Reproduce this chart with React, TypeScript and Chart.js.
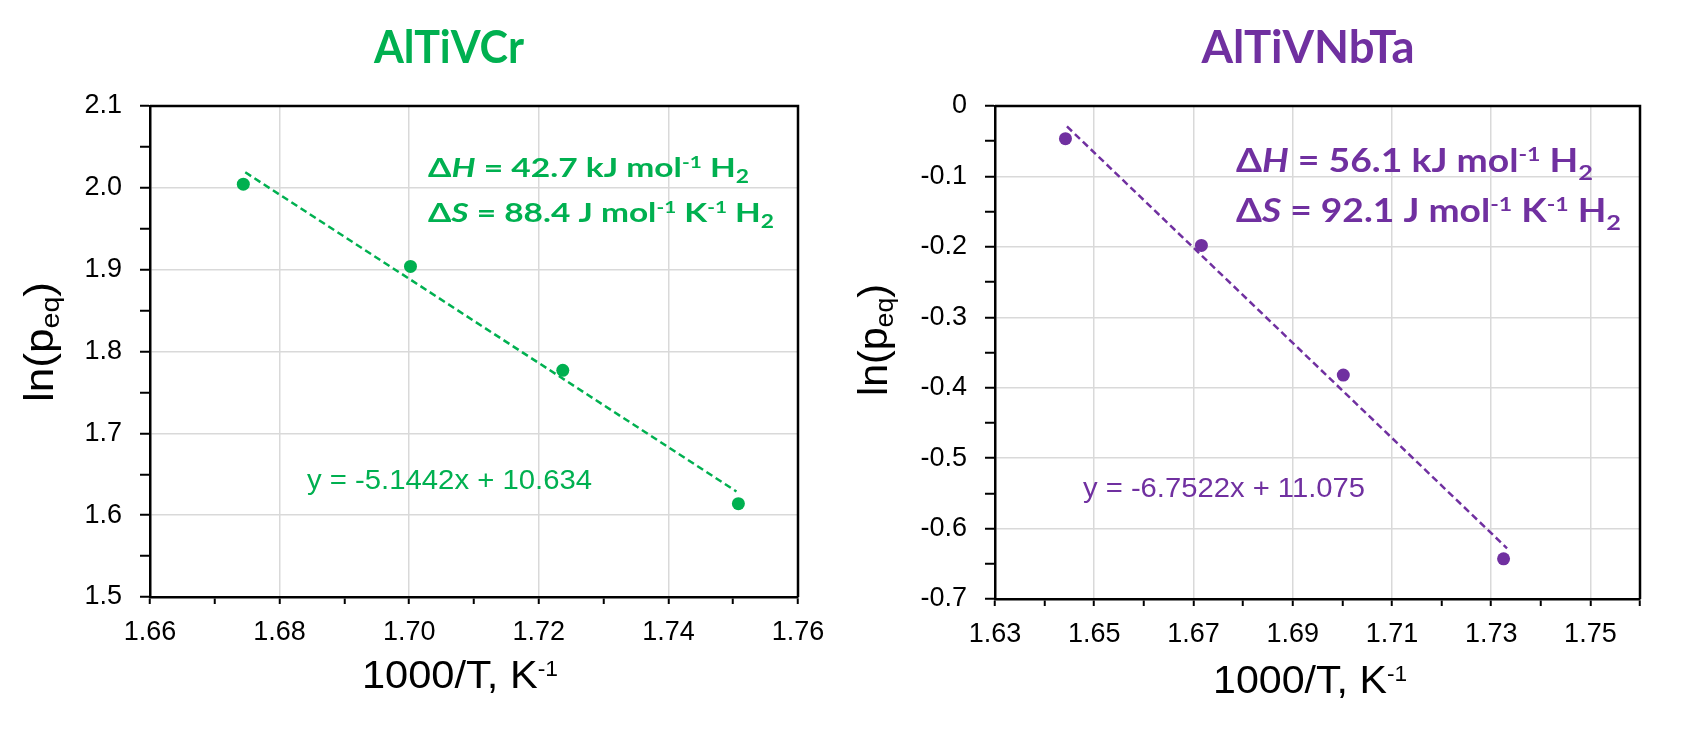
import React, { useEffect, useRef } from 'react';
import { Chart, registerables } from 'chart.js';
Chart.register(...registerables);

const GREEN = '#00B050';
const PURPLE = '#7030A0';

// ---- AlTiVCr data ----
const xAlTiVCr = [1.6744, 1.7002, 1.7237, 1.7508];
const yAlTiVCr = [2.0045, 1.904, 1.777, 1.614];
const trendXAlTiVCr = [1.6747, 1.7505];
const trendYAlTiVCr = [2.019, 1.629];
const xTicksAlTiVCr = [1.66, 1.67, 1.68, 1.69, 1.70, 1.71, 1.72, 1.73, 1.74, 1.75, 1.76];
const xLabelsAlTiVCr = ['1.66', '', '1.68', '', '1.70', '', '1.72', '', '1.74', '', '1.76'];
const yTicksAlTiVCr = [1.5, 1.55, 1.6, 1.65, 1.7, 1.75, 1.8, 1.85, 1.9, 1.95, 2.0, 2.05, 2.1];
const yLabelsAlTiVCr = ['1.5', '', '1.6', '', '1.7', '', '1.8', '', '1.9', '', '2.0', '', '2.1'];

// ---- AlTiVNbTa data ----
const xAlTiVNbTa = [1.6442, 1.6716, 1.7002, 1.7325];
const yAlTiVNbTa = [-0.0464, -0.198, -0.382, -0.643];
const trendXAlTiVNbTa = [1.6445, 1.7332];
const trendYAlTiVNbTa = [-0.029, -0.628];
const xTicksAlTiVNbTa = [1.63, 1.64, 1.65, 1.66, 1.67, 1.68, 1.69, 1.70, 1.71, 1.72, 1.73, 1.74, 1.75, 1.76];
const xLabelsAlTiVNbTa = ['1.63', '', '1.65', '', '1.67', '', '1.69', '', '1.71', '', '1.73', '', '1.75', ''];
const yTicksAlTiVNbTa = [-0.7, -0.65, -0.6, -0.55, -0.5, -0.45, -0.4, -0.35, -0.3, -0.25, -0.2, -0.15, -0.1, -0.05, 0];
const yLabelsAlTiVNbTa = ['-0.7', '', '-0.6', '', '-0.5', '', '-0.4', '', '-0.3', '', '-0.2', '', '-0.1', '', '0'];

const ARIAL = "'Liberation Sans', Arial, sans-serif";
const CALIBRI = "Lato, 'Noto Sans', sans-serif";

type Seg = { t: string; it?: boolean; sup?: boolean; sub?: boolean };
type Rich = {
  x: number; y: number; segs: Seg[]; family: string; weight: string; size: number;
  color: string; align: 'left' | 'center'; width?: number; rotate?: boolean;
  supScale?: number; supShift?: number; subScale?: number; subShift?: number;
};

function drawRich(ctx: CanvasRenderingContext2D, r: Rich) {
  const supScale = r.supScale ?? 0.62;
  const supShift = r.supShift ?? 0.32;
  const subScale = r.subScale ?? 0.68;
  const subShift = r.subShift ?? 0.25;
  const fontFor = (s: Seg) => {
    const sz = s.sup ? r.size * supScale : s.sub ? r.size * subScale : r.size;
    return `${s.it ? 'italic ' : ''}${r.weight} ${sz}px ${r.family}`;
  };
  ctx.save();
  ctx.translate(r.x, r.y);
  if (r.rotate) ctx.rotate(-Math.PI / 2);
  let W = 0;
  const ws = r.segs.map((s) => {
    ctx.font = fontFor(s);
    const w = ctx.measureText(s.t).width;
    W += w;
    return w;
  });
  const sx = r.width ? r.width / W : 1;
  ctx.scale(sx, 1);
  let x = r.align === 'center' ? -W / 2 : 0;
  ctx.fillStyle = r.color;
  ctx.textBaseline = 'alphabetic';
  ctx.textAlign = 'left';
  r.segs.forEach((s, i) => {
    ctx.font = fontFor(s);
    const dy = s.sup ? -r.size * supShift : s.sub ? r.size * subShift : 0;
    ctx.fillText(s.t, x, dy);
    x += ws[i];
  });
  ctx.restore();
}

function makePlugin(items: Rich[]) {
  return {
    id: 'richFrame',
    afterDraw(chart: any) {
      const ctx = chart.ctx as CanvasRenderingContext2D;
      const a = chart.chartArea;
      ctx.save();
      ctx.strokeStyle = '#000';
      ctx.lineWidth = 2.5;
      ctx.beginPath();
      ctx.moveTo(a.left, a.top);
      ctx.lineTo(a.right, a.top);
      ctx.lineTo(a.right, a.bottom);
      ctx.stroke();
      ctx.restore();
      items.forEach((r) => drawRich(ctx, r));
    },
  };
}

type Spec = {
  xs: number[]; ys: number[]; tx: number[]; ty: number[]; color: string;
  xTicks: number[]; xLabels: string[]; yTicks: number[]; yLabels: string[];
  width: number; area: { left: number; right: number; top: number; bottom: number };
  items: Rich[];
};

function makeChart(canvas: HTMLCanvasElement, s: Spec) {
  const XH = 60;
  return new Chart(canvas, {
    type: 'scatter',
    data: {
      datasets: [
        {
          data: s.xs.map((x, i) => ({ x, y: s.ys[i] })),
          backgroundColor: s.color,
          borderColor: s.color,
          borderWidth: 0,
          pointRadius: 6.5,
          pointHoverRadius: 6.5,
          showLine: false,
        },
        {
          data: s.tx.map((x, i) => ({ x, y: s.ty[i] })),
          borderColor: s.color,
          borderWidth: 2.5,
          borderDash: [7, 4],
          pointRadius: 0,
          showLine: true,
          fill: false,
        },
      ],
    },
    options: {
      animation: false,
      responsive: false,
      devicePixelRatio: 1,
      events: [],
      layout: {
        padding: { top: s.area.top, left: 0, right: s.width - s.area.right, bottom: 730 - s.area.bottom - XH },
      },
      plugins: { legend: { display: false }, tooltip: { enabled: false }, title: { display: false } },
      scales: {
        x: {
          type: 'linear',
          min: s.xTicks[0],
          max: s.xTicks[s.xTicks.length - 1],
          afterBuildTicks: (sc: any) => { sc.ticks = s.xTicks.map((v) => ({ value: v })); },
          afterFit: (sc: any) => { sc.height = XH; },
          ticks: {
            autoSkip: false, maxRotation: 0, minRotation: 0, padding: 12, color: '#000',
            font: { family: ARIAL, size: 27, lineHeight: 1.2 },
            callback: (_v: any, i: number) => s.xLabels[i],
          },
          grid: {
            color: (c: any) => (s.xLabels[c.index] ? '#d9d9d9' : 'rgba(0,0,0,0)'),
            tickColor: '#000', tickLength: 7, tickWidth: 2, lineWidth: 1.5,
          },
          border: { color: '#000', width: 2.5 },
        },
        y: {
          type: 'linear',
          min: s.yTicks[0],
          max: s.yTicks[s.yTicks.length - 1],
          afterBuildTicks: (sc: any) => { sc.ticks = s.yTicks.map((v) => ({ value: v })); },
          afterFit: (sc: any) => { sc.width = s.area.left; },
          ticks: {
            autoSkip: false, padding: 18, color: '#000',
            font: { family: ARIAL, size: 27, lineHeight: 1.2 },
            callback: (_v: any, i: number) => s.yLabels[i],
          },
          grid: {
            color: (c: any) => (s.yLabels[c.index] ? '#d9d9d9' : 'rgba(0,0,0,0)'),
            tickColor: '#000', tickLength: 10, tickWidth: 2, lineWidth: 1.5,
          },
          border: { color: '#000', width: 2.5 },
        },
      },
    },
    plugins: [makePlugin(s.items)],
  } as any);
}

function annot(color: string, size: number, x: number, y1: number, y2: number, w1: number, w2: number, dH: string, dS: string): Rich[] {
  return [
    {
      x, y: y1, family: CALIBRI, weight: 'bold', size, color, align: 'left', width: w1,
      segs: [{ t: 'Δ' }, { t: 'H', it: true }, { t: ` = ${dH} kJ mol` }, { t: '-1', sup: true }, { t: ' H' }, { t: '2', sub: true }],
    },
    {
      x, y: y2, family: CALIBRI, weight: 'bold', size, color, align: 'left', width: w2,
      segs: [{ t: 'Δ' }, { t: 'S', it: true }, { t: ` = ${dS} J mol` }, { t: '-1', sup: true }, { t: ' K' }, { t: '-1', sup: true }, { t: ' H' }, { t: '2', sub: true }],
    },
  ];
}

function common(color: string, title: string, titleX: number, titleW: number, eq: string, eqX: number, eqY: number, eqW: number,
  xtX: number, xtY: number, xtW: number, ytX: number, ytY: number, ytW: number): Rich[] {
  return [
    { x: titleX, y: 62.7, family: CALIBRI, weight: 'bold', size: 46, color, align: 'center', width: titleW, segs: [{ t: title }] },
    { x: eqX, y: eqY, family: ARIAL, weight: 'normal', size: 27, color, align: 'left', width: eqW, segs: [{ t: eq }] },
    {
      x: xtX, y: xtY, family: ARIAL, weight: 'normal', size: 39, color: '#000', align: 'center', width: xtW,
      supScale: 0.55, supShift: 0.3,
      segs: [{ t: '1000/T, K' }, { t: '-1', sup: true }],
    },
    {
      x: ytX, y: ytY, family: ARIAL, weight: 'normal', size: 40, color: '#000', align: 'center', width: ytW, rotate: true,
      subScale: 0.65, subShift: 0.15,
      segs: [{ t: 'ln(p' }, { t: 'eq', sub: true }, { t: ')' }],
    },
  ];
}

export default function App() {
  const leftRef = useRef<HTMLCanvasElement>(null);
  const rightRef = useRef<HTMLCanvasElement>(null);

  useEffect(() => {
    const left = makeChart(leftRef.current!, {
      xs: xAlTiVCr, ys: yAlTiVCr, tx: trendXAlTiVCr, ty: trendYAlTiVCr, color: GREEN,
      xTicks: xTicksAlTiVCr, xLabels: xLabelsAlTiVCr, yTicks: yTicksAlTiVCr, yLabels: yLabelsAlTiVCr,
      width: 845, area: { left: 150, right: 798, top: 106, bottom: 597 },
      items: [
        ...common(GREEN, 'AlTiVCr', 449, 150, 'y = -5.1442x + 10.634', 307, 489, 285, 460, 688, 196, 53, 342, 120),
        ...annot(GREEN, 27, 428, 176.5, 221.5, 321, 346, '42.7', '88.4'),
      ],
    });
    const right = makeChart(rightRef.current!, {
      xs: xAlTiVNbTa, ys: yAlTiVNbTa, tx: trendXAlTiVNbTa, ty: trendYAlTiVNbTa, color: PURPLE,
      xTicks: xTicksAlTiVNbTa, xLabels: xLabelsAlTiVNbTa, yTicks: yTicksAlTiVNbTa, yLabels: yLabelsAlTiVNbTa,
      width: 846, area: { left: 150, right: 795, top: 106, bottom: 599 },
      items: [
        ...common(PURPLE, 'AlTiVNbTa', 463, 213, 'y = -6.7522x + 11.075', 238, 496.7, 282, 465, 693, 194, 42, 340, 112),
        ...annot(PURPLE, 32, 391, 171.7, 221.7, 357, 385, '56.1', '92.1'),
      ],
    });
    return () => { left.destroy(); right.destroy(); };
  }, []);

  return (
    <div style={{ position: 'absolute', left: 0, top: 0, width: 1691, height: 730, background: '#fff' }}>
      <canvas ref={leftRef} width={845} height={730} style={{ position: 'absolute', left: 0, top: 0, width: 845, height: 730 }} />
      <canvas ref={rightRef} width={846} height={730} style={{ position: 'absolute', left: 845, top: 0, width: 846, height: 730 }} />
    </div>
  );
}
